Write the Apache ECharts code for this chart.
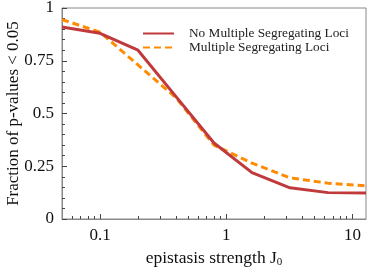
<!DOCTYPE html>
<html><head><meta charset="utf-8">
<script src="https://cdn.jsdelivr.net/npm/echarts@6/dist/echarts.min.js"></script>
<style>html,body{margin:0;padding:0;background:#fff}#c{width:374px;height:270px}</style>
</head><body><div id="c"></div>
<script>
const jValues = [0.05, 0.1, 0.2, 0.4, 0.8, 1.6, 3.2, 6.4, 12.8];
const noMultiple = [0.91, 0.88, 0.80, 0.58, 0.36, 0.22, 0.148, 0.125, 0.123];
const multiple = [0.945, 0.886, 0.73, 0.575, 0.35, 0.265, 0.195, 0.17, 0.157];
const xMajorTicks = [0.1, 1, 10];
const xMinorTicks = [0.06,0.07,0.08,0.09,0.2,0.3,0.4,0.5,0.6,0.7,0.8,0.9,2,3,4,5,6,7,8,9];
const yTicks = [0, 0.25, 0.5, 0.75, 1];
const seriesNames = ['No Multiple Segregating Loci', 'Multiple Segregating Loci'];

const font = 'Liberation Serif';
const chart = echarts.init(document.getElementById('c'), null, {renderer:'canvas'});
const pairs = arr => jValues.map((j,i)=>[j, arr[i]]);
chart.setOption({
  animation:false,
  grid:{left:62, right:8, top:8, bottom:51, show:true, borderColor:'#888', borderWidth:1,
        outerBoundsMode:'none', containLabel:false},
  legend:{
    show:true, top:22, left:137, orient:'vertical', itemWidth:31, itemHeight:10, itemGap:1,
    itemStyle:{opacity:0},
    textStyle:{fontFamily:font, fontSize:13.3, color:'#222', padding:[0,0,0,10]},
    data:seriesNames
  },
  xAxis:[{
    type:'log', logBase:10, min:0.05, max:12.8,
    axisLine:{lineStyle:{color:'#888'}},
    axisTick:{inside:true, length:5, customValues:xMajorTicks, lineStyle:{color:'#444'}},
    axisLabel:{customValues:xMajorTicks, margin:8, fontFamily:font, fontSize:17, color:'#111',
      formatter:v=>String(v)},
    splitLine:{show:false}, minorTick:{show:false},
    name:'{a|epistasis strength J}{s|0}', nameLocation:'middle', nameGap:29, nameMoveOverlap:false,
    nameTextStyle:{rich:{a:{fontFamily:font, fontSize:17.5, color:'#111'}, s:{fontFamily:font, fontSize:11, color:'#111', verticalAlign:'bottom', padding:[9,0,0,0]}}}
  },{
    type:'log', logBase:10, min:0.05, max:12.8, position:'bottom',
    axisLine:{show:false},
    axisTick:{inside:true, length:3, customValues:xMinorTicks, lineStyle:{color:'#444'}},
    axisLabel:{show:false}, splitLine:{show:false}
  }],
  yAxis:{
    type:'value', min:0, max:1, interval:0.25,
    axisLine:{show:true, lineStyle:{color:'#888'}},
    axisTick:{inside:true, length:5, lineStyle:{color:'#444'}},
    minorTick:{show:true, splitNumber:5, length:3, lineStyle:{color:'#444'}},
    axisLabel:{margin:8, fontFamily:font, fontSize:17, color:'#111', formatter:v=>String(v)},
    splitLine:{show:false},
    name:'Fraction of p-values < 0.05', nameLocation:'middle', nameGap:40, nameMoveOverlap:false,
    nameTextStyle:{fontFamily:font, fontSize:17, color:'#111'}
  },
  series:[
    {name:seriesNames[0], type:'line', xAxisIndex:0, data:pairs(noMultiple), symbol:'none',
     lineStyle:{color:'#c0393b', width:3}, itemStyle:{color:'#c0393b'}, z:3},
    {name:seriesNames[1], type:'line', xAxisIndex:0, data:pairs(multiple), symbol:'none',
     lineStyle:{color:'#ff8c00', width:3, type:[7,4]}, itemStyle:{color:'#ff8c00'}, z:2}
  ]
});
</script></body></html>
